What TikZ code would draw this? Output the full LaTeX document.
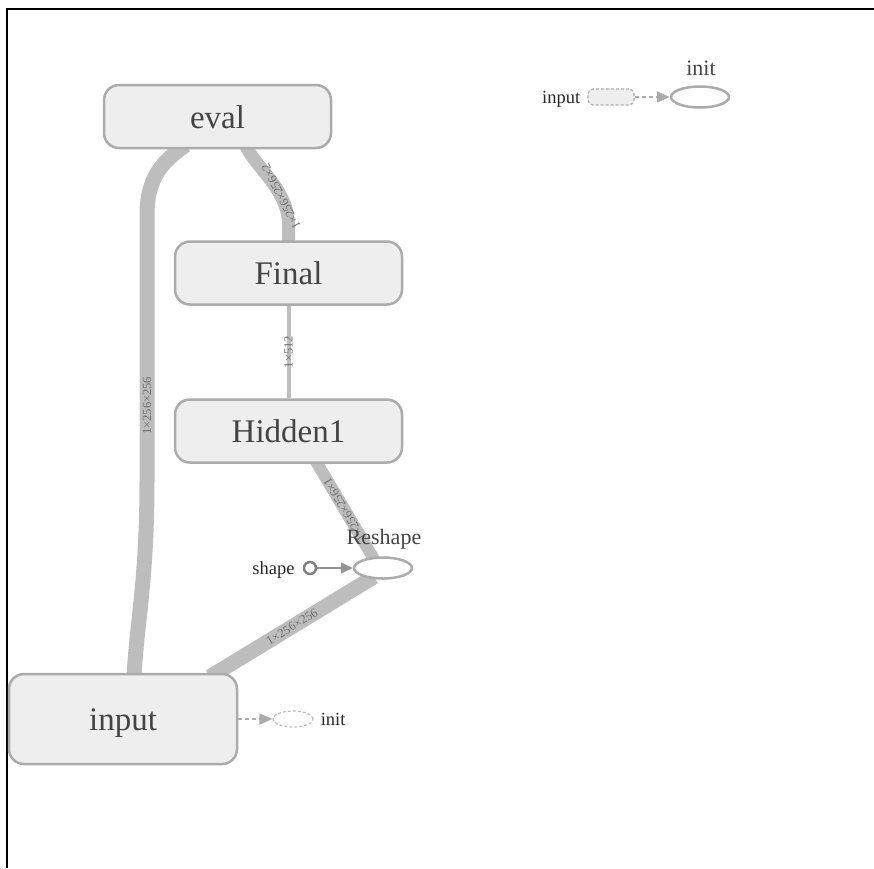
\documentclass[tikz,border=0pt]{standalone}
\usepackage{fontspec}
\setmainfont{Liberation Serif}
\usetikzlibrary{arrows.meta,backgrounds,shapes.geometric,positioning}
\definecolor{boxfill}{HTML}{EEEEEE}
\definecolor{boxline}{HTML}{ABABAB}
\definecolor{edgegray}{HTML}{BDBDBD}
\definecolor{txtgray}{HTML}{444444}
\definecolor{lblgray}{HTML}{6E6E6E}

\begin{document}
\begin{tikzpicture}[x=1pt, y=-1pt,
    op/.style={draw=boxline, line width=2.5pt, fill=boxfill, rounded corners=15pt,
      minimum width=227pt, minimum height=63pt, inner sep=0pt, text=txtgray,
      text height=23pt, text depth=0pt, font=\fontsize{33}{33}\selectfont},
    small/.style={inner sep=0pt, text=black!85, font=\fontsize{18.5}{18.5}\selectfont},
    mid/.style={inner sep=0pt, text=txtgray, font=\fontsize{22}{22}\selectfont},
    edge/.style={draw=edgegray, line cap=butt},
    elabel/.style={inner sep=0pt, text=lblgray, sloped, allow upside down,
      font=\fontsize{12.5}{12.5}\selectfont},
    ctrl/.style={draw=boxline, line width=2pt, dash pattern=on 4pt off 3pt,
      -{Triangle[length=13pt,width=11pt]}}]
  \useasboundingbox (0,0) rectangle (874,868);
  \draw[line width=2pt] (7,868) -- (7,9) -- (874,9);

  \node[op] (eval) at (217.5,116.5) {eval};
  \node[op] (final) at (288.5,273) {Final};
  \node[op] (hidden) at (288.5,431) {Hidden1};
  \node[op, minimum width=228pt, minimum height=90pt] (input) at (123,719) {input};
  \node[ellipse, draw=boxline, line width=2.5pt, fill=white, minimum width=58pt,
    minimum height=21pt, inner sep=0pt] (reshape) at (383,568) {};
  \node[mid] (reshapelbl) at (384,539) {Reshape};
  \node[circle, draw=gray, line width=2.5pt, fill=white, minimum size=12pt,
    inner sep=0pt] (shape) at (310,568) {};
  \node[small, left=8pt of shape, yshift=-2.5pt] (shapelbl) {shape};

  \node[draw=boxline, line width=1.2pt, dash pattern=on 3pt off 2pt, fill=boxfill,
    rounded corners=5pt, minimum width=46pt, minimum height=16pt] (tinput) at (611,97) {};
  \node[small, left=7pt of tinput, yshift=-2.5pt] (tinputlbl) {input};
  \node[ellipse, draw=boxline, line width=2.5pt, fill=white, minimum width=58pt,
    minimum height=21pt, inner sep=0pt] (tinit) at (700,97) {};
  \node[mid] (tinitlbl) at (701,68) {init};
  \node[ellipse, draw=edgegray, line width=1.2pt, dash pattern=on 3pt off 2pt,
    minimum width=40pt, minimum height=16pt, inner sep=0pt] (binit) at (293,719) {};
  \node[small, right=7pt of binit] (binitlbl) {init};

  \draw[ctrl] (tinput) -- (tinit);
  \draw[ctrl] (input) -- (binit);
  \draw[draw=gray!85, line width=1.5pt, -{Triangle[length=12pt,width=11pt]}] (shape) -- (reshape);

  \begin{scope}[on background layer]
    \draw[edge, line width=15pt] ([xshift=11pt,yshift=-4pt]input.north)
      .. controls (137,620) and (147,580) .. (147,480)
      -- (147,215) node[elabel, pos=0.28] {1×256×256}
      .. controls (147,175) and (165,160) .. ([xshift=-32pt,yshift=4pt]eval.south);
    \draw[edge, line width=13pt] ([yshift=-4pt]final.north) -- (288.5,225)
      .. controls (288.5,190) and (256,168) .. ([xshift=28pt,yshift=4pt]eval.south)
      node[elabel, pos=0.3] {1×256×256×2};
    \draw[edge, line width=4pt] (hidden) -- (final) node[elabel, midway] {1×512};
    \draw[edge, line width=12pt] ([xshift=-9pt,yshift=-3pt]reshape.north)
      -- ([xshift=26.5pt,yshift=4pt]hidden.south) node[elabel, midway] {1×256×256×1};
    \draw[edge, line width=15pt] ([xshift=87pt,yshift=-4pt]input.north)
      -- ([xshift=-9pt,yshift=3pt]reshape.south) node[elabel, midway] {1×256×256};
  \end{scope}
\end{tikzpicture}
\end{document}
